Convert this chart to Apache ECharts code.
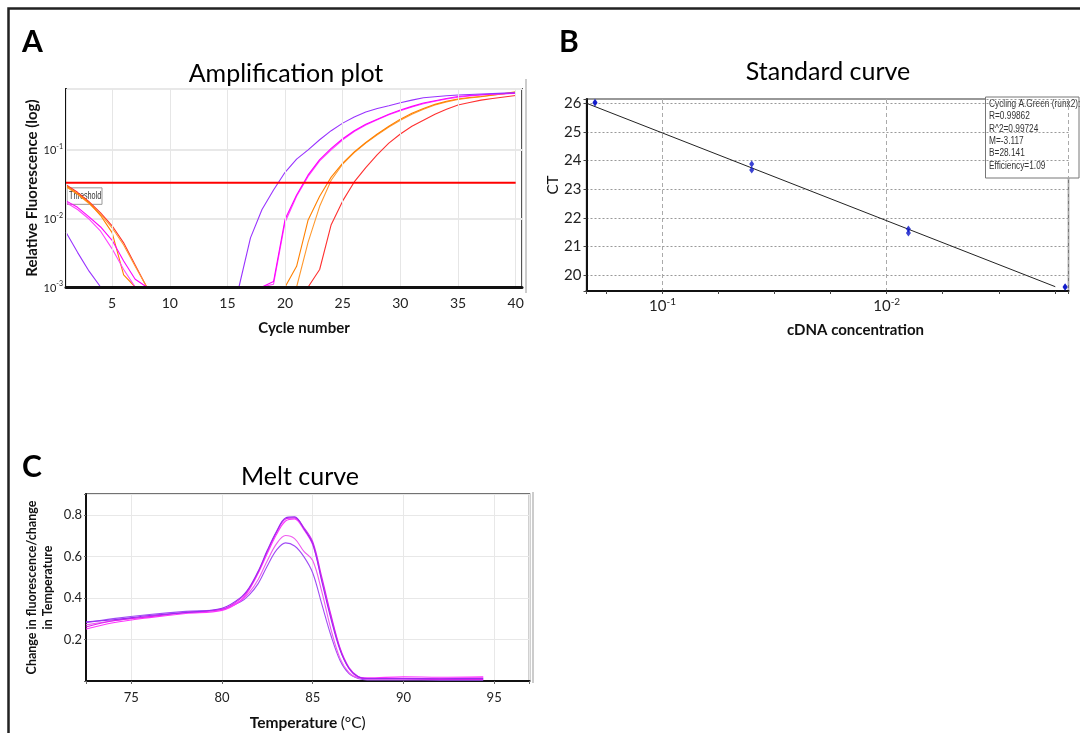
<!DOCTYPE html>
<html>
<head>
<meta charset="utf-8">
<title>qPCR: amplification, standard curve, melt curve</title>
<script src="https://cdn.jsdelivr.net/npm/echarts@6/dist/echarts.min.js"></script>
<style>
  html, body { margin: 0; padding: 0; background: #fff; }
  #chart { width: 1080px; height: 733px; }
</style>
</head>
<body>
<div id="chart"></div>
<script>
// ---------- A: amplification plot (relative fluorescence, log) ----------
const cycles = [1, 2, 3, 4, 5, 6, 7, 8, 9, 10, 11, 12, 13, 14, 15, 16, 17, 18, 19, 20,
  21, 22, 23, 24, 25, 26, 27, 28, 29, 30, 31, 32, 33, 34, 35, 36, 37, 38, 39, 40];
const threshold = 0.033;
// values at the display floor are shown as 0.001
const ampPurple = [0.0063, 0.0032, 0.0017, 0.001, 0.001, 0.001, 0.001, 0.001, 0.001, 0.001,
  0.001, 0.001, 0.001, 0.001, 0.001, 0.001, 0.0052, 0.0135, 0.026, 0.047,
  0.073, 0.10, 0.14, 0.19, 0.245, 0.30, 0.355, 0.40, 0.44, 0.485,
  0.53, 0.575, 0.595, 0.615, 0.63, 0.64, 0.65, 0.66, 0.67, 0.68];
const ampMagenta1 = [0.018, 0.0145, 0.0105, 0.0075, 0.0048, 0.0024, 0.0013, 0.001, 0.001, 0.001,
  0.001, 0.001, 0.001, 0.001, 0.001, 0.001, 0.001, 0.001, 0.0012, 0.0097,
  0.022, 0.043, 0.072, 0.105, 0.145, 0.19, 0.235, 0.28, 0.33, 0.38,
  0.43, 0.48, 0.52, 0.56, 0.60, 0.62, 0.635, 0.65, 0.66, 0.67];
const ampMagenta2 = [0.017, 0.0135, 0.0098, 0.0065, 0.0036, 0.0018, 0.001, 0.001, 0.001, 0.001,
  0.001, 0.001, 0.001, 0.001, 0.001, 0.001, 0.001, 0.001, 0.0011, 0.0088,
  0.021, 0.041, 0.069, 0.10, 0.14, 0.185, 0.23, 0.275, 0.325, 0.37,
  0.42, 0.47, 0.51, 0.55, 0.585, 0.61, 0.63, 0.645, 0.655, 0.665];
const ampOrange1 = [0.030, 0.023, 0.017, 0.011, 0.0062, 0.0015, 0.001, 0.001, 0.001, 0.001,
  0.001, 0.001, 0.001, 0.001, 0.001, 0.001, 0.001, 0.001, 0.001, 0.001,
  0.002, 0.0095, 0.021, 0.04, 0.064, 0.093, 0.128, 0.17, 0.22, 0.28,
  0.34, 0.40, 0.46, 0.51, 0.55, 0.58, 0.60, 0.63, 0.66, 0.70];
const ampOrange2 = [0.029, 0.0225, 0.0165, 0.0115, 0.0073, 0.0041, 0.002, 0.001, 0.001, 0.001,
  0.001, 0.001, 0.001, 0.001, 0.001, 0.001, 0.001, 0.001, 0.001, 0.001,
  0.001, 0.0045, 0.015, 0.036, 0.062, 0.091, 0.125, 0.165, 0.215, 0.27,
  0.33, 0.39, 0.45, 0.50, 0.54, 0.57, 0.595, 0.625, 0.655, 0.69];
const ampRed = [0.031, 0.024, 0.0175, 0.012, 0.0078, 0.0044, 0.0021, 0.001, 0.001, 0.001,
  0.001, 0.001, 0.001, 0.001, 0.001, 0.001, 0.001, 0.001, 0.001, 0.001,
  0.001, 0.001, 0.0018, 0.0081, 0.018, 0.034, 0.055, 0.085, 0.125, 0.17,
  0.22, 0.27, 0.33, 0.39, 0.45, 0.49, 0.53, 0.56, 0.59, 0.62];

// ---------- B: standard curve ----------
const stdConc = [0.2, 0.2, 0.04, 0.04, 0.008, 0.008, 0.0016, 0.0016];
const stdCt = [26.04, 26.01, 23.88, 23.67, 21.61, 21.47, 19.60, 19.58];
const fitConc = [0.218, 0.00177];
const fitCt = [26.0, 19.60];
const fitStats = ['Cycling A.Green (runx2):', 'R=0.99862', 'R^2=0.99724', 'M=-3.117', 'B=28.141', 'Efficiency=1.09'];

// ---------- C: melt curve ----------
const meltTemp = [72.5, 74, 76, 78, 80, 81, 81.5, 82, 82.5, 83, 83.5, 84, 84.5, 85, 85.5, 86, 86.5, 87, 87.5, 88, 90, 92, 94.4];
const melt1 = [0.285, 0.295, 0.315, 0.33, 0.35, 0.40, 0.45, 0.53, 0.63, 0.72, 0.785, 0.79, 0.735, 0.66, 0.48, 0.30, 0.15, 0.06, 0.02, 0.012, 0.012, 0.011, 0.012];
const melt2 = [0.26, 0.29, 0.31, 0.33, 0.345, 0.395, 0.445, 0.525, 0.625, 0.715, 0.78, 0.785, 0.74, 0.67, 0.50, 0.32, 0.16, 0.065, 0.022, 0.01, 0.01, 0.008, 0.008];
const melt3 = [0.25, 0.28, 0.305, 0.325, 0.34, 0.385, 0.44, 0.52, 0.615, 0.705, 0.77, 0.78, 0.73, 0.655, 0.485, 0.31, 0.155, 0.06, 0.02, 0.015, 0.02, 0.018, 0.02];
const melt4 = [0.27, 0.29, 0.31, 0.33, 0.345, 0.385, 0.425, 0.49, 0.58, 0.66, 0.70, 0.685, 0.625, 0.58, 0.43, 0.25, 0.11, 0.04, 0.015, 0.012, 0.012, 0.012, 0.015];
const melt5 = [0.28, 0.30, 0.32, 0.335, 0.345, 0.38, 0.415, 0.47, 0.555, 0.63, 0.665, 0.65, 0.60, 0.52, 0.37, 0.22, 0.10, 0.035, 0.012, 0.005, 0.005, 0.004, 0.004];

const FONT = 'Lato, "Open Sans", sans-serif';
const ARIAL = '"Liberation Sans", Arial, sans-serif';
const TXT = '#222';

const pairs = (xs, ys) => xs.map((x, i) => [x, ys[i]]);
// "10" with a raised exponent
const powRich = (size) => ({
  b: { fontSize: size, fontFamily: FONT, color: TXT, lineHeight: size + 2, verticalAlign: 'bottom' },
  s: { fontSize: Math.round(size * 0.68), fontFamily: FONT, color: TXT, lineHeight: Math.round(size * 0.5), verticalAlign: 'top' }
});

const ampLine = (name, data, color) => ({
  name, type: 'line', xAxisIndex: 0, yAxisIndex: 0,
  data: pairs(cycles, data), symbol: 'none', clip: true,
  lineStyle: { color, width: 1.1 }, z: 2
});
const meltLine = (name, data, color) => ({
  name, type: 'line', xAxisIndex: 2, yAxisIndex: 2,
  data: pairs(meltTemp, data), symbol: 'none', smooth: 0.35,
  lineStyle: { color, width: 1.1 }
});
const nameStyle = (size) => ({ fontFamily: FONT, fontWeight: 'bold', fontSize: size, color: '#111' });

const chart = echarts.init(document.getElementById('chart'));

const option = {
  animation: false,
  backgroundColor: '#fff',
  grid: [
    { left: 66, top: 89, width: 456, height: 198, show: true, borderColor: '#555', borderWidth: 2, outerBoundsMode: 'none' },
    { left: 586.5, top: 99, width: 482, height: 192, show: true, borderColor: '#777', borderWidth: 1.5, outerBoundsMode: 'none' },
    { left: 86, top: 494, width: 443.5, height: 187, show: true, borderColor: '#444', borderWidth: 1.5, outerBoundsMode: 'none' }
  ],
  xAxis: [
    {
      gridIndex: 0, type: 'value', min: 1, max: 40.55, splitNumber: 8, z: 3,
      axisLine: { lineStyle: { color: '#111', width: 3 } },
      axisTick: { show: false },
      axisLabel: { margin: 9, fontSize: 14, fontFamily: FONT, color: TXT,
        formatter: v => (v % 5 === 0 ? String(v) : '') },
      splitLine: { show: true, lineStyle: { color: '#e6e6e6', width: 1 } },
      name: 'Cycle number', nameLocation: 'middle', nameGap: 34,
      nameTextStyle: Object.assign(nameStyle(15), { padding: [0, 0, 0, 20] })
    },
    {
      gridIndex: 1, type: 'value', min: -2.811, max: -0.661, inverse: true, splitNumber: 2,
      axisLine: { lineStyle: { color: '#111', width: 2 } },
      axisTick: { show: true, length: 3, lineStyle: { color: '#444' } },
      minorTick: { show: true, splitNumber: 4, length: 3, lineStyle: { color: '#444' } },
      axisLabel: { margin: 6, rich: powRich(15),
        formatter: v => (Math.abs(v - Math.round(v)) < 1e-6 ? '{b|10}{s|' + Math.round(v) + '}' : '') },
      splitLine: { show: true, lineStyle: { color: '#aaa', type: [4, 3], width: 1 } },
      name: 'cDNA concentration', nameLocation: 'middle', nameGap: 32,
      nameTextStyle: Object.assign(nameStyle(15), { padding: [0, 0, 0, 56] })
    },
    {
      gridIndex: 2, type: 'value', min: 72.5, max: 96.95, splitNumber: 5,
      axisLine: { lineStyle: { color: '#111', width: 2 } },
      axisTick: { show: true, length: 3, lineStyle: { color: '#666' } },
      axisLabel: { margin: 10, fontSize: 13, fontFamily: FONT, color: TXT,
        formatter: v => (v % 5 === 0 ? String(v) : '') },
      splitLine: { show: true, lineStyle: { color: '#e8e8e8', width: 1 } },
      name: '{b|Temperature} {r|(°C)}', nameLocation: 'middle', nameGap: 34,
      nameTextStyle: { rich: {
        b: nameStyle(15.5),
        r: { fontFamily: FONT, fontSize: 15.5, color: '#111' } } }
    }
  ],
  yAxis: [
    {
      gridIndex: 0, type: 'log', logBase: 10, min: 0.001, max: 0.77,
      axisLine: { show: true, lineStyle: { color: '#111', width: 2 } },
      axisTick: { show: false },
      axisLabel: { margin: 3, rich: powRich(11),
        formatter: v => {
          const e = Math.log10(v);
          return Math.abs(e - Math.round(e)) < 1e-6 ? '{b|10}{s|' + Math.round(e) + '}' : '';
        } },
      splitLine: { show: true, lineStyle: { color: '#e8e8e8', width: 2 } },
      name: 'Relative Fluorescence (log)', nameLocation: 'middle', nameGap: 25,
      nameTextStyle: nameStyle(15)
    },
    {
      gridIndex: 1, type: 'value', min: 19.45, max: 26.15, splitNumber: 5,
      axisLine: { show: true, lineStyle: { color: '#111', width: 2 } },
      axisTick: { show: true, length: 3, lineStyle: { color: '#444' } },
      axisLabel: { margin: 5, fontSize: 15, fontFamily: FONT, color: TXT,
        formatter: v => (Math.abs(v - Math.round(v)) < 1e-6 ? String(Math.round(v)) : '') },
      splitLine: { show: true, lineStyle: { color: '#999', type: [2, 2], width: 1 } },
      name: 'CT', nameLocation: 'middle', nameGap: 25,
      nameTextStyle: { fontFamily: FONT, fontSize: 15, color: '#111', padding: [0, 0, 0, 20] }
    },
    {
      gridIndex: 2, type: 'value', min: 0, max: 0.9, interval: 0.2,
      axisLine: { show: true, lineStyle: { color: '#111', width: 2 } },
      axisTick: { show: true, length: 2, lineStyle: { color: '#666' } },
      axisLabel: { margin: 4, fontSize: 13, fontFamily: FONT, color: TXT,
        formatter: v => (v > 0 && Math.abs(v * 5 - Math.round(v * 5)) < 1e-6 ? v.toFixed(1) : '') },
      splitLine: { show: true, lineStyle: { color: '#e8e8e8', width: 1 } },
      name: 'Change in fluorescence/change\nin Temperature', nameLocation: 'middle', nameGap: 30,
      nameTextStyle: Object.assign(nameStyle(12.5), { lineHeight: 16 })
    }
  ],
  series: [
    ampLine('red', ampRed, '#ff3030'),
    ampLine('orange 2', ampOrange2, '#ff9a30'),
    ampLine('orange 1', ampOrange1, '#ff8000'),
    ampLine('magenta 2', ampMagenta2, '#ff44ff'),
    ampLine('magenta 1', ampMagenta1, '#ff00ff'),
    ampLine('purple', ampPurple, '#9933ff'),
    {
      name: 'threshold', type: 'line', xAxisIndex: 0, yAxisIndex: 0,
      data: [[cycles[0], threshold], [cycles[cycles.length - 1], threshold]],
      symbol: 'none', lineStyle: { color: '#ff0000', width: 2 }, z: 4
    },
    {
      name: 'fit', type: 'line', xAxisIndex: 1, yAxisIndex: 1,
      data: pairs(fitConc.map(Math.log10), fitCt), symbol: 'none',
      lineStyle: { color: '#222', width: 1 }
    },
    {
      name: 'standards', type: 'scatter', xAxisIndex: 1, yAxisIndex: 1,
      data: pairs(stdConc.map(Math.log10), stdCt),
      symbol: 'diamond', symbolSize: [5, 7],
      itemStyle: { color: '#0a14c8' }, z: 5
    },
    meltLine('melt 5', melt5, '#a04cf5'),
    meltLine('melt 4', melt4, '#f05af0'),
    meltLine('melt 3', melt3, '#ff33ff'),
    meltLine('melt 2', melt2, '#dd22ee'),
    meltLine('melt 1', melt1, '#9a2cf0')
  ],
  graphic: [
    // figure frame
    { type: 'polyline', shape: { points: [[8.5, 733], [8.5, 8.5], [1080, 8.5]] },
      style: { stroke: '#222', lineWidth: 2.5, fill: null }, silent: true },
    // scanner edge lines
    { type: 'line', shape: { x1: 526, y1: 79, x2: 526, y2: 293 }, style: { stroke: '#bbb', lineWidth: 1.5 } },
    { type: 'line', shape: { x1: 533, y1: 492, x2: 533, y2: 683 }, style: { stroke: '#bbb', lineWidth: 1.5 } },
    // panel letters and titles
    { type: 'text', x: 22, y: 42, style: { text: 'A', font: 'bold 30px ' + FONT, fill: '#000', align: 'left', verticalAlign: 'middle' } },
    { type: 'text', x: 559, y: 42, style: { text: 'B', font: 'bold 30px ' + FONT, fill: '#000', align: 'left', verticalAlign: 'middle' } },
    { type: 'text', x: 22, y: 467, style: { text: 'C', font: 'bold 30px ' + FONT, fill: '#000', align: 'left', verticalAlign: 'middle' } },
    { type: 'text', x: 286, y: 74, style: { text: 'Amplification plot', font: '25px ' + FONT, fill: '#000', align: 'center', verticalAlign: 'middle' } },
    { type: 'text', x: 828, y: 72, style: { text: 'Standard curve', font: '25px ' + FONT, fill: '#000', align: 'center', verticalAlign: 'middle' } },
    { type: 'text', x: 300, y: 477, style: { text: 'Melt curve', font: '25px ' + FONT, fill: '#000', align: 'center', verticalAlign: 'middle' } },
    // regression stats box
    { type: 'group', x: 985.5, y: 97, z: 10, children: [
      { type: 'rect', shape: { x: 0, y: 0, width: 93.5, height: 81 }, style: { fill: '#fff', stroke: '#777', lineWidth: 1 } }
    ].concat(fitStats.map((t, i) => ({
      type: 'text', x: 3.5, y: 7 + i * 12.4, scaleX: 0.83,
      style: { text: t, font: '10px ' + ARIAL, fill: '#333', align: 'left', verticalAlign: 'middle' }
    }))) }
  ]
};

chart.setOption(option);

// threshold label box sits just under the threshold line at the first cycle
const tp = chart.convertToPixel({ xAxisIndex: 0, yAxisIndex: 0 }, [cycles[0], threshold]);
chart.setOption({ graphic: option.graphic.concat([
  { type: 'group', x: tp[0] + 1, y: tp[1] + 5, z: 10, children: [
    { type: 'rect', shape: { x: 0, y: 0, width: 35, height: 16.5 }, style: { fill: 'rgba(255,255,255,0.55)', stroke: '#999', lineWidth: 1 } },
    { type: 'text', x: 2, y: 8.5, scaleX: 0.66, style: { text: 'Threshold', font: '11px ' + ARIAL, fill: '#333', align: 'left', verticalAlign: 'middle' } }
  ] }
]) });

window.addEventListener('resize', () => chart.resize());
</script>
</body>
</html>
